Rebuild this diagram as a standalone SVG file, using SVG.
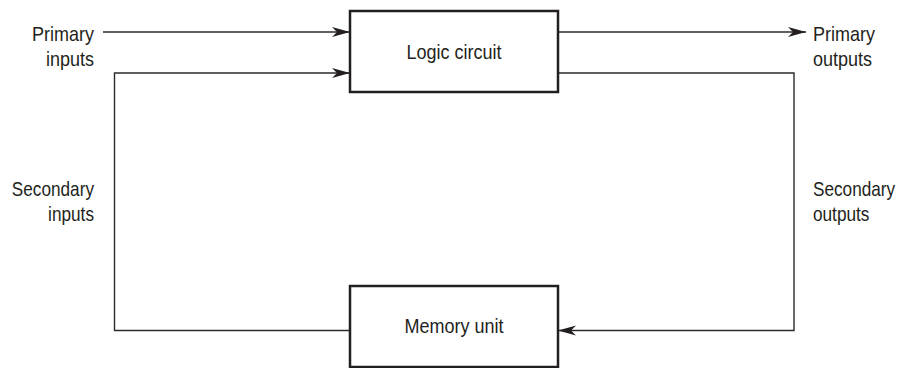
<svg xmlns="http://www.w3.org/2000/svg" width="910" height="368" viewBox="0 0 910 368">
  <style>
    .box { fill: #fff; stroke: #231f20; stroke-width: 2.5; }
    .wire { fill: none; stroke: #2b2b2b; stroke-width: 1.4; }
    .lbl { font-family: "Liberation Sans", Arial, sans-serif; font-size: 20px; fill: #231f20; }
    .r { text-anchor: end; }
    .m { text-anchor: middle; }
  </style>
  <defs>
    <marker id="arr" viewBox="0 0 18 12" refX="18" refY="6" markerWidth="18" markerHeight="12" markerUnits="userSpaceOnUse" orient="auto">
      <path d="M0,1 L18,6 L0,11 L5,6 Z" fill="#231f20"/>
    </marker>
  </defs>
  <rect width="910" height="368" fill="#fff"/>
  <g id="connectors">
    <line class="wire" x1="103" y1="32" x2="350" y2="32" marker-end="url(#arr)"/>
    <polyline class="wire" points="350,330.5 114.5,330.5 114.5,73 350,73" marker-end="url(#arr)"/>
    <line class="wire" x1="558" y1="32" x2="806" y2="32" marker-end="url(#arr)"/>
    <polyline class="wire" points="558,73 794,73 794,330.5 558,330.5" marker-end="url(#arr)"/>
  </g>
  <g id="logic-circuit">
    <rect class="box" x="350" y="11" width="208" height="81"/>
    <text class="lbl m" transform="translate(454,59) scale(0.9,1)">Logic circuit</text>
  </g>
  <g id="memory-unit">
    <rect class="box" x="350" y="286" width="208" height="81"/>
    <text class="lbl m" transform="translate(454,333) scale(0.9,1)">Memory unit</text>
  </g>
  <g id="primary-inputs">
    <text class="lbl r" transform="translate(94,41) scale(0.9,1)">Primary</text>
    <text class="lbl r" transform="translate(94,66) scale(0.9,1)">inputs</text>
  </g>
  <g id="secondary-inputs">
    <text class="lbl r" transform="translate(94,196) scale(0.86,1)">Secondary</text>
    <text class="lbl r" transform="translate(94,221) scale(0.86,1)">inputs</text>
  </g>
  <g id="primary-outputs">
    <text class="lbl" transform="translate(813,41) scale(0.9,1)">Primary</text>
    <text class="lbl" transform="translate(813,66) scale(0.9,1)">outputs</text>
  </g>
  <g id="secondary-outputs">
    <text class="lbl" transform="translate(813,196) scale(0.86,1)">Secondary</text>
    <text class="lbl" transform="translate(813,221) scale(0.86,1)">outputs</text>
  </g>
</svg>
